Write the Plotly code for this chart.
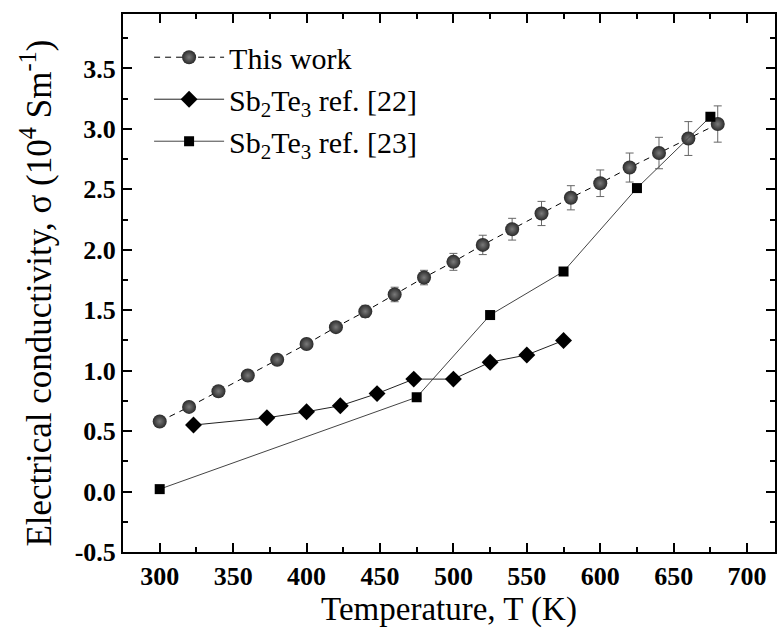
import plotly.graph_objects as go

# This work
t_work = [300, 320, 340, 360, 380, 400, 420, 440, 460, 480, 500, 520, 540, 560, 580, 600, 620, 640, 660, 680]
s_work = [0.58, 0.70, 0.83, 0.96, 1.09, 1.22, 1.36, 1.49, 1.63, 1.77, 1.90, 2.04, 2.17, 2.30, 2.43, 2.55, 2.68, 2.80, 2.92, 3.04]
e_work = [0.02, 0.02, 0.03, 0.03, 0.03, 0.04, 0.04, 0.05, 0.06, 0.06, 0.07, 0.08, 0.09, 0.10, 0.10, 0.11, 0.12, 0.13, 0.14, 0.15]

# Sb2Te3 ref. [22]
t_r22 = [323, 373, 400, 423, 448, 473, 500, 525, 550, 575]
s_r22 = [0.55, 0.61, 0.66, 0.71, 0.81, 0.93, 0.93, 1.07, 1.13, 1.25]

# Sb2Te3 ref. [23]
t_r23 = [300, 475, 525, 575, 625, 675]
s_r23 = [0.02, 0.78, 1.46, 1.82, 2.51, 3.10]

x_ticks = [300, 350, 400, 450, 500, 550, 600, 650, 700]
y_ticks = [-0.5, 0.0, 0.5, 1.0, 1.5, 2.0, 2.5, 3.0, 3.5]
y_ticktext = ["-0.5", "0.0", "0.5", "1.0", "1.5", "2.0", "2.5", "3.0", "3.5"]

FONT = "Liberation Serif"

fig = go.Figure()
fig.add_trace(go.Scatter(
    x=t_work, y=s_work, mode="lines+markers", name="This work",
    line=dict(color="black", width=1, dash="6px,5px"),
    marker=dict(symbol="circle", size=14, color="#2a2a2a",
                gradient=dict(type="radial", color="#7a7a7a"),
                line=dict(width=0)),
    error_y=dict(type="data", array=e_work, visible=True, color="#666666", thickness=1, width=4),
))
fig.add_trace(go.Scatter(
    x=t_r22, y=s_r22, mode="lines+markers",
    name="Sb<sub>2</sub>Te<sub>3</sub> ref. [22]",
    line=dict(color="#222222", width=1),
    marker=dict(symbol="diamond", size=13, color="black"),
))
fig.add_trace(go.Scatter(
    x=t_r23, y=s_r23, mode="lines+markers",
    name="Sb<sub>2</sub>Te<sub>3</sub> ref. [23]",
    line=dict(color="#444444", width=1),
    marker=dict(symbol="square", size=10, color="black"),
))

axis_common = dict(
    showline=True, linecolor="black", linewidth=2, mirror="ticks",
    ticks="inside", ticklen=9, tickwidth=2, tickcolor="black",
    showgrid=False, zeroline=False,
    tickfont=dict(family=FONT, size=26, color="black", weight="bold"),
)

fig.update_xaxes(
    range=[275, 719], tickvals=x_ticks,
    title=dict(text="Temperature, T (K)", font=dict(family=FONT, size=33, color="black"), standoff=6),
    minor=dict(ticks="inside", ticklen=5, tickwidth=2, tickcolor="black", dtick=25, tick0=0),
    **axis_common,
)
fig.update_yaxes(
    range=[-0.5, 3.95], tickvals=y_ticks, ticktext=y_ticktext,
    minor=dict(ticks="inside", ticklen=5, tickwidth=2, tickcolor="black", dtick=0.25, tick0=0),
    **axis_common,
)

fig.add_annotation(
    text="Electrical conductivity, σ (10<sup>4</sup> Sm<sup>-1</sup>)",
    xref="paper", yref="paper", x=-0.132, y=0.482, xanchor="center", yanchor="middle",
    textangle=-90, showarrow=False,
    font=dict(family=FONT, size=35, color="black"),
)

fig.update_layout(
    width=780, height=637,
    margin=dict(l=123, r=3, t=14, b=85),
    paper_bgcolor="white", plot_bgcolor="white",
    showlegend=True,
    legend=dict(x=0.04, y=0.968, xanchor="left", yanchor="top",
                bgcolor="rgba(0,0,0,0)", borderwidth=0,
                font=dict(family=FONT, size=30, color="black"),
                itemwidth=70),
)

fig.write_html("out.html")
